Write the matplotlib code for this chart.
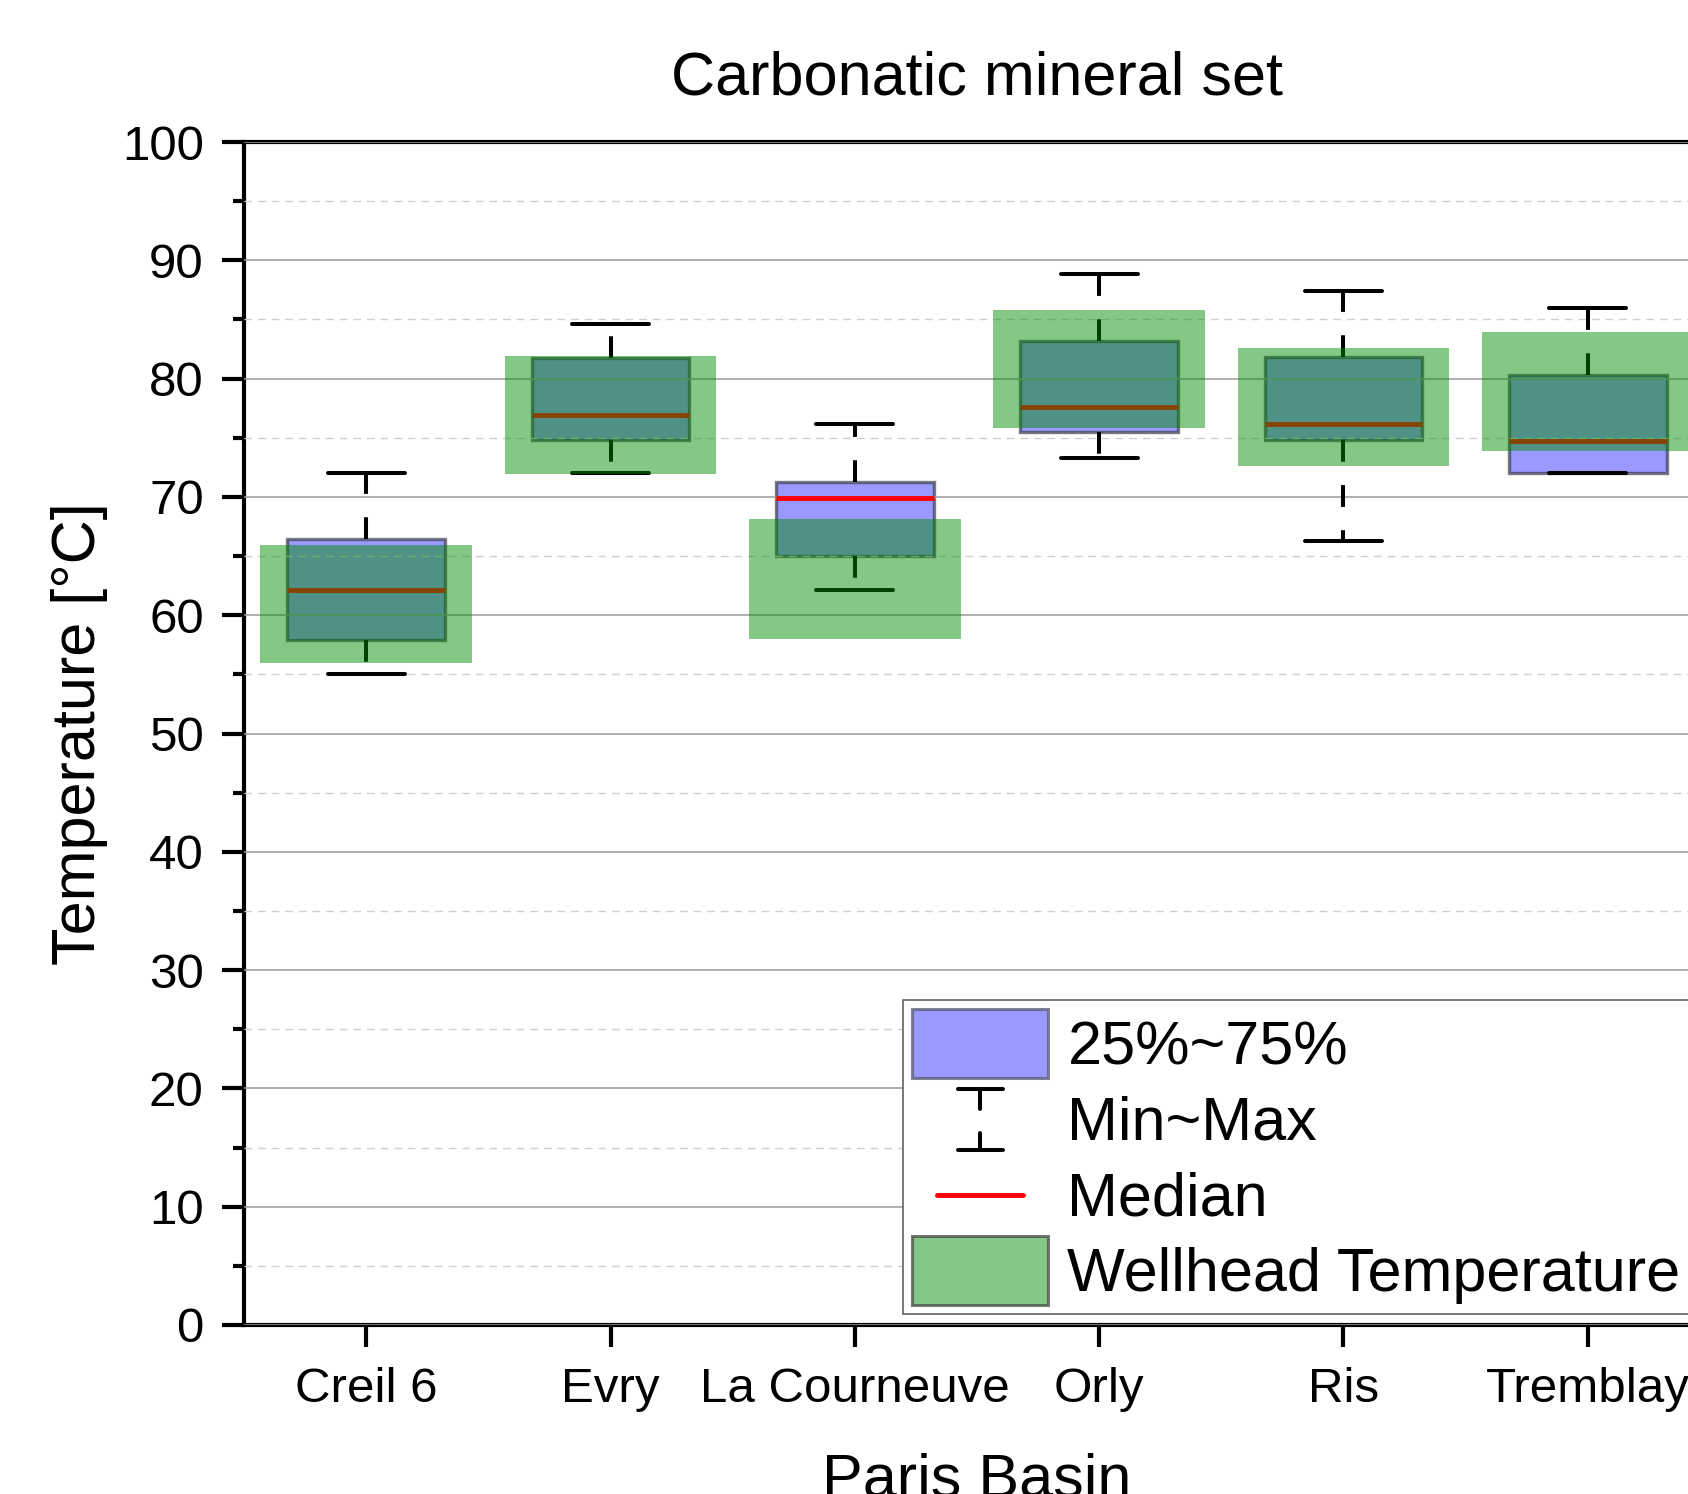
import matplotlib
matplotlib.use("Agg")
import matplotlib.pyplot as plt
from matplotlib.patches import Patch
from matplotlib.lines import Line2D
from matplotlib.legend_handler import HandlerBase
from matplotlib.ticker import MultipleLocator

plt.rcParams['font.family'] = ['Liberation Sans', 'DejaVu Sans']

# ---- data ----
sites = ["Creil 6", "Evry", "La Courneuve", "Orly", "Ris", "Tremblay"]
t_min = [55.0, 72.0, 62.1, 73.3, 66.3, 72.0]
t_q1 = [57.9, 74.8, 65.0, 75.5, 74.8, 72.0]
t_median = [62.1, 76.9, 69.9, 77.6, 76.2, 74.7]
t_q3 = [66.4, 81.7, 71.3, 83.2, 81.8, 80.3]
t_max = [72.0, 84.6, 76.2, 88.8, 87.4, 86.0]
wellhead_low = [56.0, 71.9, 58.0, 75.8, 72.6, 73.9]
wellhead_high = [65.9, 81.9, 68.1, 85.8, 82.6, 83.9]

legend_labels = ["25%~75%", "Min~Max", "Median", "Wellhead Temperature"]
title = "Carbonatic mineral set"
xlabel = "Paris Basin"
ylabel = "Temperature [°C]"

# ---- style ----
BOX_FC = "#9999FF"
BOX_EC = (0.2, 0.2, 0.25, 0.65)
GREEN = (0.0, 0.55, 0.0, 0.48)
GREEN_EC = (0.25, 0.25, 0.25, 0.7)

W, H, DPI = 16.88, 14.94, 100
fig = plt.figure(figsize=(W, H), dpi=DPI)
ax = fig.add_axes([244 / 1688, 1 - 1325 / 1494, 1466 / 1688, 1183 / 1494])

xs = list(range(1, len(sites) + 1))
box_w = 0.645
green_w = 0.865
cap_w = 0.315
lw_wh = 2.9

heights = [q3 - q1 for q1, q3 in zip(t_q1, t_q3)]
ax.bar(xs, heights, bottom=t_q1, width=box_w, color=BOX_FC,
       edgecolor=BOX_EC, linewidth=2.4, zorder=1)

for x, lo, q1, q3, hi in zip(xs, t_min, t_q1, t_q3, t_max):
    ax.plot([x, x], [q3, hi], color="black", lw=lw_wh,
            linestyle=(0, (5.4, 5.8)), zorder=2.6)
    ax.plot([x, x], [q1, lo], color="black", lw=lw_wh,
            linestyle=(0, (5.4, 5.8)), zorder=2.6)
    ax.plot([x - cap_w / 2, x + cap_w / 2], [hi, hi], color="black",
            lw=lw_wh, solid_capstyle="round", zorder=2.6)
    ax.plot([x - cap_w / 2, x + cap_w / 2], [lo, lo], color="black",
            lw=lw_wh, solid_capstyle="round", zorder=2.6)

ax.hlines(t_median, [x - box_w / 2 for x in xs], [x + box_w / 2 for x in xs],
          color="#FF0000", lw=3.5, zorder=2.7)

gh = [h - l for l, h in zip(wellhead_low, wellhead_high)]
ax.bar(xs, gh, bottom=wellhead_low, width=green_w, color=GREEN,
       edgecolor="none", zorder=3)

# axes
ax.set_xlim(0.5, 6.5)
ax.set_ylim(0, 100)
ax.set_xticks(xs)
ax.set_xticklabels(sites)
ax.yaxis.set_major_locator(MultipleLocator(10))
ax.yaxis.set_minor_locator(MultipleLocator(5))
ax.set_axisbelow(False)
ax.yaxis.grid(True, which="major", color="#9A9A9A", lw=1.1)
ax.yaxis.grid(True, which="minor", color="#CFCFCF", lw=1.0,
              linestyle=(0, (5.5, 4.3)))
ax.xaxis.grid(False)

for s in ["left", "bottom", "top"]:
    ax.spines[s].set_linewidth(3.0)
    ax.spines[s].set_color("black")
ax.spines["right"].set_visible(False)

ax.tick_params(axis="y", which="major", direction="out", length=16, width=3.0,
               labelsize=35.5, pad=13)
ax.tick_params(axis="y", which="minor", direction="out", length=8, width=3.0)
ax.tick_params(axis="x", which="major", direction="out", length=16, width=3.0,
               labelsize=35.5, pad=14)
ax.tick_params(axis="x", which="minor", bottom=False)

ax.set_title(title, fontsize=44, pad=34)
ax.set_xlabel(xlabel, fontsize=44)
ax.xaxis.set_label_coords(0.5, -0.108)
ax.set_ylabel(ylabel, fontsize=44)
ax.yaxis.set_label_coords(-0.093, 0.5)


class HandlerMinMax(HandlerBase):
    def create_artists(self, legend, orig_handle, xdescent, ydescent,
                       width, height, fontsize, trans):
        cx = width / 2 - xdescent
        cy = height / 2 - ydescent
        half = 22.0
        cw = 16.0
        arts = [
            Line2D([cx - cw, cx + cw], [cy + half, cy + half]),
            Line2D([cx - cw, cx + cw], [cy - half, cy - half]),
            Line2D([cx, cx], [cy + half, cy + half - 14.4]),
            Line2D([cx, cx], [cy - half, cy - half + 12.0]),
        ]
        for a in arts:
            a.set_color("black")
            a.set_linewidth(2.9)
            a.set_solid_capstyle("round")
            a.set_transform(trans)
        return arts


class HandlerMedian(HandlerBase):
    def create_artists(self, legend, orig_handle, xdescent, ydescent,
                       width, height, fontsize, trans):
        cx = width / 2 - xdescent
        cy = height / 2 - ydescent
        ln = Line2D([cx - 31, cx + 31], [cy, cy], color="#FF0000", lw=3.5,
                    solid_capstyle="round")
        ln.set_transform(trans)
        return [ln]


h_box = Patch(facecolor=BOX_FC, edgecolor=(0.35, 0.35, 0.45, 0.75), linewidth=2.2)
h_mm = Line2D([], [], color="black")
h_med = Line2D([], [], color="red")
h_green = Patch(facecolor=GREEN, edgecolor=GREEN_EC, linewidth=2.2)

leg = ax.legend([h_box, h_mm, h_med, h_green], legend_labels,
                handler_map={h_mm: HandlerMinMax(), h_med: HandlerMedian()},
                loc="upper left", bbox_to_anchor=(903 / 1688, 1 - 1000 / 1494),
                bbox_transform=fig.transFigure, borderaxespad=0,
                fontsize=44, handlelength=2.23, handleheight=1.36,
                handletextpad=0.31, borderpad=0.15, labelspacing=0.107,
                fancybox=False, framealpha=1, edgecolor="#555555")
leg.get_frame().set_linewidth(1.1)
leg.set_zorder(10)

fig.savefig("out.png", dpi=DPI)
